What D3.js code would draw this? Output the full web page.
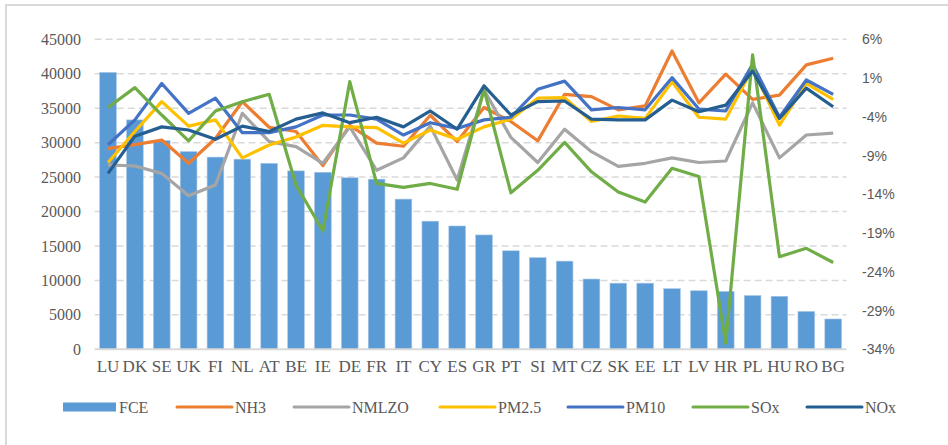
<!DOCTYPE html>
<html>
<head>
<meta charset="utf-8">
<script src="https://cdn.jsdelivr.net/npm/d3@7"></script>
<style>
  body { margin: 0; background: #fff; }
  svg { display: block; }
</style>
</head>
<body>
<svg id="chart" width="948" height="445"></svg>
<script>
var countries = ['LU','DK','SE','UK','FI','NL','AT','BE','IE','DE','FR','IT','CY','ES','GR','PT','SI','MT','CZ','SK','EE','LT','LV','HR','PL','HU','RO','BG'];
var fce = [40200,33300,30300,28700,27900,27600,27000,25900,25700,24900,24700,21800,18600,17900,16600,14300,13300,12800,10200,9600,9600,8800,8500,8400,7800,7700,5500,4400];
var nh3 = [-8.1,-7.6,-7.0,-10.0,-6.8,-2.05,-5.35,-5.9,-10.3,-5.1,-7.4,-7.8,-3.8,-7.2,-2.8,-4.6,-7.1,-1.1,-1.4,-3.1,-2.6,4.5,-2.2,1.5,-1.75,-1.2,2.7,3.55];
var nmlzo = [-10.2,-10.35,-11.3,-14.2,-12.8,-3.55,-7.2,-7.85,-10.0,-5.3,-10.9,-9.3,-5.2,-12.15,-0.55,-6.65,-9.9,-5.6,-8.5,-10.4,-10.0,-9.3,-9.9,-9.7,-2.2,-9.3,-6.35,-6.1];
var pm25 = [-9.9,-5.9,-2.05,-5.2,-4.4,-9.3,-7.64,-6.6,-5.1,-5.3,-5.4,-7.4,-5.7,-6.9,-5.3,-4.3,-1.6,-1.53,-4.6,-3.9,-4.2,0.53,-4.06,-4.3,2.25,-5.06,0.3,-1.75];
var pm10 = [-7.6,-4.4,0.3,-3.55,-1.6,-6.05,-6.05,-5.3,-3.77,-3.77,-4.3,-6.35,-4.76,-5.5,-4.4,-4.06,-0.45,0.6,-3.1,-2.8,-3.1,1.05,-3.0,-3.25,2.77,-4.06,0.75,-1.1];
var sox = [-2.8,-0.24,-3.77,-7.1,-3.25,-2.05,-1.1,-12.8,-18.7,0.53,-12.6,-13.1,-12.6,-13.35,-0.45,-13.8,-10.9,-7.3,-11.1,-13.7,-15.0,-10.65,-11.7,-33.2,4.0,-22.05,-20.97,-22.8];
var nox = [-11.3,-6.5,-5.3,-5.7,-6.9,-5.2,-5.9,-4.3,-3.5,-4.76,-4.06,-5.3,-3.25,-5.6,0,-3.77,-2.05,-1.96,-4.3,-4.4,-4.4,-1.85,-3.35,-2.5,1.9,-4.2,-0.3,-2.7];
var leftTicks = [0,5000,10000,15000,20000,25000,30000,35000,40000,45000];
var rightTicks = [-34,-29,-24,-19,-14,-9,-4,1,6];

var series = [
    {name: 'NH3', values: nh3, color: '#ed7d31'},
    {name: 'NMLZO', values: nmlzo, color: '#a5a5a5'},
    {name: 'PM2.5', values: pm25, color: '#ffc000'},
    {name: 'PM10', values: pm10, color: '#4472c4'},
    {name: 'SOx', values: sox, color: '#70ad47'},
    {name: 'NOx', values: nox, color: '#255e91'}
];

var svg = d3.select('#chart');
var textColor = '#595959';
var serif = "'Liberation Serif', 'Times New Roman', serif";
var sans = "'Liberation Sans', Arial, sans-serif";

// outer frame (top + left only)
svg.append('path')
    .attr('d', 'M6,445 L6,5 L948,5')
    .attr('fill', 'none')
    .attr('stroke', '#d9d9d9')
    .attr('stroke-width', 2);

var plotLeft = 94.6, plotRight = 846.6, plotTop = 39.3, plotBottom = 349.3;

var x = d3.scaleBand().domain(countries).range([plotLeft, plotRight])
    .paddingInner(0.378).paddingOuter(0.189);
var yL = d3.scaleLinear().domain([0, 45000]).range([plotBottom, plotTop]);
var yR = d3.scaleLinear().domain([-34, 6]).range([plotBottom, plotTop]);

// gridlines
svg.append('g')
    .selectAll('line')
    .data(leftTicks.slice(1))
    .enter().append('line')
    .attr('x1', plotLeft).attr('x2', plotRight)
    .attr('y1', function(d) { return yL(d); })
    .attr('y2', function(d) { return yL(d); })
    .attr('stroke', '#d9d9d9')
    .attr('stroke-width', 1.5)
    .attr('stroke-dasharray', '7,4');

// left axis
var axL = svg.append('g')
    .attr('transform', 'translate(81,0)')
    .call(d3.axisLeft(yL).tickValues(leftTicks).tickSize(0).tickPadding(0).tickFormat(d3.format('d')));
axL.select('.domain').remove();
axL.attr('font-family', serif).attr('font-size', 16);
axL.selectAll('text').attr('fill', textColor);

// right axis
var axR = svg.append('g')
    .attr('transform', 'translate(862,0)')
    .call(d3.axisRight(yR).tickValues(rightTicks).tickSize(0).tickPadding(0)
        .tickFormat(function(d) { return d + '%'; }));
axR.select('.domain').remove();
axR.attr('font-family', sans).attr('font-size', 14);
axR.selectAll('text').attr('fill', textColor);

// bars
svg.append('g')
    .selectAll('rect')
    .data(countries)
    .enter().append('rect')
    .attr('x', function(d) { return x(d); })
    .attr('y', function(d, i) { return yL(fce[i]); })
    .attr('width', x.bandwidth())
    .attr('height', function(d, i) { return plotBottom - yL(fce[i]); })
    .attr('fill', '#5b9bd5')
    .attr('stroke', '#a9c8e8')
    .attr('stroke-width', 0.6);

// bottom axis line
svg.append('line')
    .attr('x1', plotLeft).attr('x2', plotRight)
    .attr('y1', plotBottom).attr('y2', plotBottom)
    .attr('stroke', '#d9d9d9')
    .attr('stroke-width', 2);

// category labels
var axB = svg.append('g')
    .attr('transform', 'translate(0,358)')
    .call(d3.axisBottom(x).tickSize(0).tickPadding(0));
axB.select('.domain').remove();
axB.attr('font-family', serif).attr('font-size', 17);
axB.selectAll('text')
    .attr('fill', textColor)
    .attr('dy', '0.85em');

// lines
var line = d3.line()
    .x(function(d, i) { return x(countries[i]) + x.bandwidth() / 2; })
    .y(function(d) { return yR(d); });

svg.append('g')
    .selectAll('path')
    .data(series)
    .enter().append('path')
    .attr('d', function(d) { return line(d.values); })
    .attr('fill', 'none')
    .attr('stroke', function(d) { return d.color; })
    .attr('stroke-width', 3.2)
    .attr('stroke-linejoin', 'round');

// legend
var legendY = 407;
var legend = svg.append('g')
    .attr('font-family', serif)
    .attr('font-size', 16);
legend.append('rect')
    .attr('x', 63).attr('y', legendY - 4.5)
    .attr('width', 53).attr('height', 9)
    .attr('fill', '#5b9bd5');
legend.append('text')
    .attr('x', 119).attr('y', legendY)
    .attr('dy', '0.35em')
    .attr('fill', textColor)
    .text('FCE');
var legendX = [177, 294, 440, 568, 693, 807];
series.forEach(function(s, i) {
    legend.append('line')
        .attr('x1', legendX[i]).attr('x2', legendX[i] + 55)
        .attr('y1', legendY).attr('y2', legendY)
        .attr('stroke', s.color)
        .attr('stroke-width', 3)
        .attr('stroke-linecap', 'round');
    legend.append('text')
        .attr('x', legendX[i] + 58).attr('y', legendY)
        .attr('dy', '0.35em')
        .attr('fill', textColor)
        .text(s.name);
});
</script>
</body>
</html>
